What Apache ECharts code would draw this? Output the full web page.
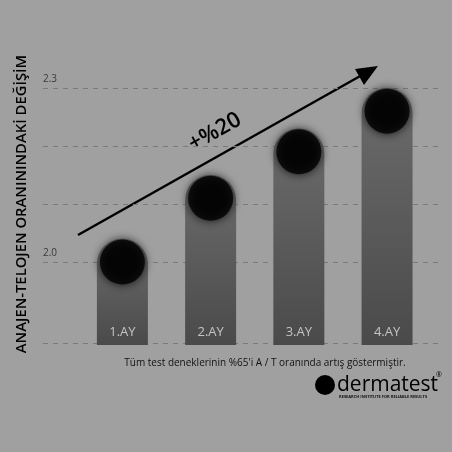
<!DOCTYPE html>
<html>
<head>
<meta charset="UTF-8">
<script src="https://cdn.jsdelivr.net/npm/echarts@6/dist/echarts.min.js"></script>
<style>
html,body{margin:0;padding:0;background:#a0a0a0;}
#main{width:452px;height:452px;}
</style>
</head>
<body>
<div id="main"></div>
<script>
var months = ['1.AY', '2.AY', '3.AY', '4.AY'];
var monthPos = [0.9, 1.9, 2.9, 3.9];
var dotValues = [2.0, 2.11, 2.19, 2.26];     // circle centres
var barTops = [2.04, 2.15, 2.23, 2.30];      // rounded bar tops
var gridValues = [2.0, 2.1, 2.2, 2.3];
var tickLabels = {'2': '2.0', '2.3': '2.3'};
var yMin = 1.857, yMax = 2.3;

var chart = echarts.init(document.getElementById('main'));

var lines = gridValues.map(function (v) {
  return {yAxis: v, label: {show: !!tickLabels[String(v)], formatter: tickLabels[String(v)] || ''}};
});
lines.push({yAxis: yMin, label: {show: false}});

function pairs(vals) {
  return vals.map(function (v, i) { return [monthPos[i], v]; });
}

var option = {
  backgroundColor: '#a0a0a0',
  animation: false,
  grid: {left: 43, right: 12, top: 88, bottom: 107},
  xAxis: {type: 'value', min: 0, max: 4.5, show: false},
  yAxis: {type: 'value', min: yMin, max: yMax, show: false},
  series: [
    {
      type: 'line',
      data: [],
      z: 1,
      markLine: {
        silent: true, symbol: 'none', z: 1,
        lineStyle: {color: '#7a7a7a', type: [5, 5], width: 1},
        label: {position: 'insideStartTop', color: '#3a3a3a', fontSize: 10, fontFamily: 'Open Sans',
                distance: [0, 4]},
        data: lines
      }
    },
    {
      type: 'bar',
      data: pairs(barTops),
      barWidth: 51,
      itemStyle: {
        borderRadius: [25, 25, 0, 0],
        color: new echarts.graphic.LinearGradient(0, 0, 0, 1, [
          {offset: 0, color: '#6c6c6c'},
          {offset: 1, color: '#4a4a4a'}
        ])
      },
      label: {
        show: true, position: 'insideBottom', distance: 6,
        formatter: function (p) { return months[p.dataIndex]; },
        color: '#c4c4c4', fontSize: 13, fontFamily: 'Open Sans'
      },
      z: 2
    },
    {
      type: 'scatter',
      data: pairs(dotValues),
      symbolSize: 45,
      itemStyle: {color: '#000', shadowColor: '#000', shadowBlur: 10},
      z: 3
    }
  ],
  graphic: [
    {type: 'line', shape: {x1: 78, y1: 235, x2: 362, y2: 75}, style: {stroke: '#000', lineWidth: 2.5}},
    {type: 'polygon', shape: {points: [[378, 66], [355, 69], [364, 85]]}, style: {fill: '#000'}},
    {type: 'text', x: 215, y: 132, rotation: 29.3 * Math.PI / 180,
     style: {text: '+%20', fill: '#000', font: '600 22px "Open Sans"', align: 'center', verticalAlign: 'middle'}},
    {type: 'text', x: 22, y: 204, rotation: Math.PI / 2,
     style: {text: 'ANAJEN-TELOJEN ORANININDAKİ DEĞİŞİM', fill: '#000', font: '600 14.8px "Open Sans"',
             align: 'center', verticalAlign: 'middle'}},
    {type: 'text', x: 265, y: 363,
     style: {text: "Tüm test deneklerinin %65'i A / T oranında artış göstermiştir.", fill: '#111',
             font: '10px "Open Sans"', align: 'center', verticalAlign: 'middle'}},
    {type: 'circle', shape: {cx: 325, cy: 385, r: 10}, style: {fill: '#000'}},
    {type: 'text', x: 337, y: 385,
     style: {text: 'dermatest', fill: '#000', font: '21px "Open Sans"', verticalAlign: 'middle'}},
    {type: 'text', x: 436, y: 375,
     style: {text: '®', fill: '#000', font: '7px "Open Sans"', verticalAlign: 'middle'}},
    {type: 'text', x: 339, y: 397,
     style: {text: 'RESEARCH INSTITUTE FOR RELIABLE RESULTS', fill: '#111', font: 'bold 4px "Open Sans"', verticalAlign: 'middle'}}
  ]
};
chart.setOption(option);
</script>
</body>
</html>
